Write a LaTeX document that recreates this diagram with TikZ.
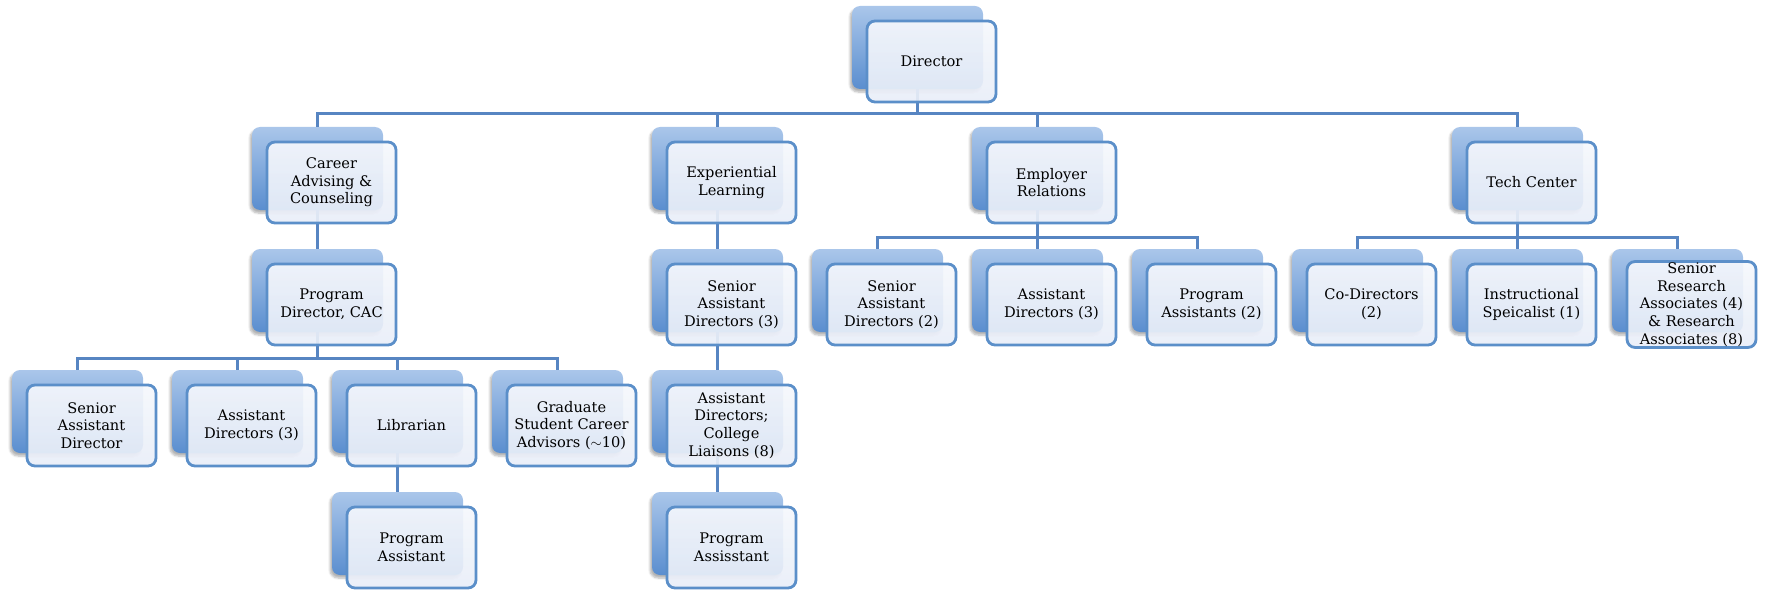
\documentclass[tikz,border=0pt]{standalone}
\usepackage{fontspec}
\setmainfont{DejaVu Serif}
\usetikzlibrary{shadows.blur}
\definecolor{bkTop}{HTML}{AAC6EA}
\definecolor{bkBot}{HTML}{5A8ECF}
\definecolor{frEdge}{HTML}{5B8FC9}
\definecolor{frTop}{HTML}{F5F7FC}
\definecolor{frBot}{HTML}{E8EEF8}
\definecolor{connCol}{HTML}{5785C2}
\newcommand\backunit[3]{\node[backbox] (#1B) at ({#2+65.5},{#3+41.5}) {};}
\newcommand\frontunit[4]{\node[frontbox] (#1) at ({#2+79.5},{#3+55.5}) {#4};}
\tikzset{
  backbox/.style={rounded corners=8pt, minimum width=131pt, minimum height=83pt, inner sep=0pt,
    top color=bkTop, bottom color=bkBot,
    blur shadow={shadow xshift=-2pt, shadow yshift=-3pt, shadow blur steps=6, shadow opacity=30}},
  frontbox/.style={rounded corners=8pt, minimum width=129pt, minimum height=81pt, inner sep=1pt,
    draw=frEdge, line width=2.8pt, top color=frTop, bottom color=frBot, fill opacity=0.92, text opacity=1,
    align=center, text=black, font=\fontsize{14.6}{17.7}\selectfont},
  conn/.style={draw=connCol, line width=2.8pt}
}
\begin{document}
\begin{tikzpicture}[x=1pt,y=-1pt]
\useasboundingbox (0,0) rectangle (1765,591);
% back boxes
\backunit{dir}{852}{6}
\backunit{car}{252}{127}
\backunit{exp}{652}{127}
\backunit{emp}{972}{127}
\backunit{tech}{1452}{127}
\backunit{pd}{252}{249}
\backunit{sadt}{652}{249}
\backunit{sadtw}{812}{249}
\backunit{ade}{972}{249}
\backunit{pat}{1132}{249}
\backunit{cod}{1292}{249}
\backunit{ins}{1452}{249}
\backunit{sra}{1612}{249}
\backunit{sad}{12}{370}
\backunit{adc}{172}{370}
\backunit{lib}{332}{370}
\backunit{grad}{492}{370}
\backunit{adcl}{652}{370}
\backunit{pa}{332}{492}
\backunit{pass}{652}{492}
% connectors
\draw[conn] (dirB.south) -- ++(0,24) -| (carB.north);
\draw[conn] (dirB.south) -- ++(0,24) -| (expB.north);
\draw[conn] (dirB.south) -- ++(0,24) -| (empB.north);
\draw[conn] (dirB.south) -- ++(0,24) -| (techB.north);
\draw[conn] (carB.south) -- (pdB.north);
\draw[conn] (pdB.south) -- ++(0,26) -| (sadB.north);
\draw[conn] (pdB.south) -- ++(0,26) -| (adcB.north);
\draw[conn] (pdB.south) -- ++(0,26) -| (libB.north);
\draw[conn] (pdB.south) -- ++(0,26) -| (gradB.north);
\draw[conn] (libB.south) -- (paB.north);
\draw[conn] (expB.south) -- (sadtB.north);
\draw[conn] (sadtB.south) -- (adclB.north);
\draw[conn] (adclB.south) -- (passB.north);
\draw[conn] (empB.south) -- ++(0,27) -| (sadtwB.north);
\draw[conn] (empB.south) -- ++(0,27) -| (adeB.north);
\draw[conn] (empB.south) -- ++(0,27) -| (patB.north);
\draw[conn] (techB.south) -- ++(0,27) -| (codB.north);
\draw[conn] (techB.south) -- ++(0,27) -| (insB.north);
\draw[conn] (techB.south) -- ++(0,27) -| (sraB.north);
% front boxes
\frontunit{dir}{852}{6}{Director}
\frontunit{car}{252}{127}{Career\\Advising \&\\Counseling}
\frontunit{exp}{652}{127}{Experiential\\Learning}
\frontunit{emp}{972}{127}{Employer\\Relations}
\frontunit{tech}{1452}{127}{Tech Center}
\frontunit{pd}{252}{249}{Program\\Director, CAC}
\frontunit{sadt}{652}{249}{Senior\\Assistant\\Directors (3)}
\frontunit{sadtw}{812}{249}{Senior\\Assistant\\Directors (2)}
\frontunit{ade}{972}{249}{Assistant\\Directors (3)}
\frontunit{pat}{1132}{249}{Program\\Assistants (2)}
\frontunit{cod}{1292}{249}{Co-Directors\\(2)}
\frontunit{ins}{1452}{249}{Instructional\\Speicalist (1)}
\frontunit{sra}{1612}{249}{Senior\\Research\\Associates (4)\\\& Research\\Associates (8)}
\frontunit{sad}{12}{370}{Senior\\Assistant\\Director}
\frontunit{adc}{172}{370}{Assistant\\Directors (3)}
\frontunit{lib}{332}{370}{Librarian}
\frontunit{grad}{492}{370}{Graduate\\Student Career\\Advisors ($\sim$10)}
\frontunit{adcl}{652}{370}{Assistant\\Directors;\\College\\Liaisons (8)}
\frontunit{pa}{332}{492}{Program\\Assistant}
\frontunit{pass}{652}{492}{Program\\Assisstant}
\end{tikzpicture}
\end{document}
